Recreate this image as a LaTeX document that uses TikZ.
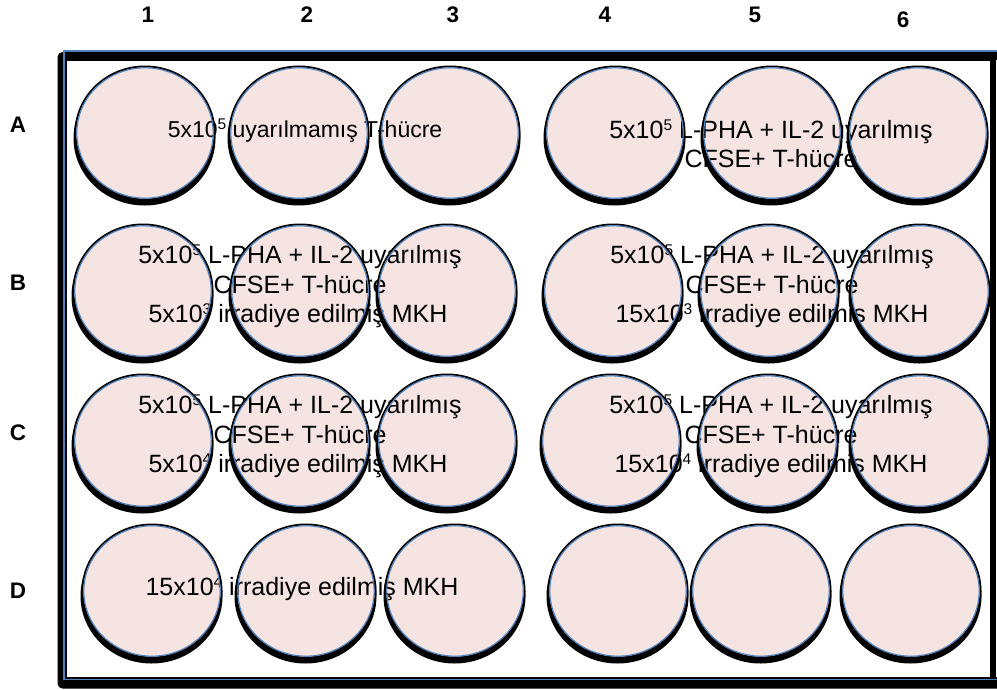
\documentclass[tikz,border=0pt]{standalone}
\usepackage{fontspec}
\setmainfont{Liberation Sans}
\usetikzlibrary{shapes.geometric}
\definecolor{wellpink}{HTML}{F5E4E2}
\definecolor{rimblue}{HTML}{4F81BD}
\newcommand\sups[1]{\raisebox{7.5pt}{\fontsize{15.5}{15.5}\selectfont #1}}
\begin{document}
\begin{tikzpicture}[x=1pt,y=-1pt,
  wellbase/.style={ellipse, minimum width=138pt, minimum height=132pt, inner sep=0pt, fill=wellpink},
  txt/.style={anchor=base, inner sep=0pt, font=\fontsize{25}{30}\selectfont},
  txtA/.style={anchor=base, inner sep=0pt, font=\fontsize{23}{28}\selectfont},
  lbl/.style={font=\fontsize{22.5}{26}\selectfont\bfseries, inner sep=0pt}]
\useasboundingbox (0,0) rectangle (997,689);
% plate frame
\fill[black, rounded corners=5pt] (57.5,52) rectangle (1010,688.5);
\draw[rimblue, line width=1.8pt, fill=black] (63.8,50.8) rectangle (1005,679.5);
\draw[black, line width=1pt, fill=white] (66.5,60) rectangle (990.5,677);
\fill[white] (995.5,60) rectangle (997,677);
% column and row labels
\node[lbl] (c1) at (148,15) {1};
\node[lbl] (c2) at (307,15) {2};
\node[lbl] (c3) at (453,15) {3};
\node[lbl] (c4) at (605,15) {4};
\node[lbl] (c5) at (755,15) {5};
\node[lbl] (c6) at (903,20) {6};
\node[lbl] (rA) at (18,125) {A};
\node[lbl] (rB) at (18,283) {B};
\node[lbl] (rC) at (18,433) {C};
\node[lbl] (rD) at (18,591) {D};
% wells: shadows and fills
\foreach \n/\x/\y in {A1/145/133, A2/299/133, A3/450/133, A4/615/133, A5/772/133, A6/918/133,
                      B1/143/291, B2/300/291, B3/447/291, B4/613/291, B5/769/291, B6/920/291,
                      C1/143/441, C2/300/441, C3/447/441, C4/611/441, C5/768/441, C6/920/441,
                      D1/152/591, D2/306/591, D3/455/591, D4/618/591, D5/761/591, D6/911/591} {
  \fill[black] (\x-0.5,\y+5) ellipse [x radius=71pt, y radius=67.5pt];
  \node[wellbase] (\n) at (\x,\y) {};
}
% texts
\node[txtA] (tA1) at (305,137) {5x10\sups{5} uyarılmamış T-hücre};
\node[txt] (tA2a) at (771,138) {5x10\sups{5} L-PHA + IL-2 uyarılmış};
\node[txt] (tA2b) at (771,167) {CFSE+ T-hücre};
\node[txt] (tB1a) at (300,263) {5x10\sups{5} L-PHA + IL-2 uyarılmış};
\node[txt] (tB1b) at (300,293) {CFSE+ T-hücre};
\node[txt] (tB1c) at (298,322) {5x10\sups{3} irradiye edilmiş MKH};
\node[txt] (tB2a) at (772,263) {5x10\sups{5} L-PHA + IL-2 uyarılmış};
\node[txt] (tB2b) at (772,293) {CFSE+ T-hücre};
\node[txt] (tB2c) at (772,322) {15x10\sups{3} irradiye edilmiş MKH};
\node[txt] (tC1a) at (300,413) {5x10\sups{5} L-PHA + IL-2 uyarılmış};
\node[txt] (tC1b) at (300,443) {CFSE+ T-hücre};
\node[txt] (tC1c) at (298,472) {5x10\sups{4} irradiye edilmiş MKH};
\node[txt] (tC2a) at (771,413) {5x10\sups{5} L-PHA + IL-2 uyarılmış};
\node[txt] (tC2b) at (771,443) {CFSE+ T-hücre};
\node[txt] (tC2c) at (771,472) {15x10\sups{4} irradiye edilmiş MKH};
\node[txt] (tD1) at (302,595) {15x10\sups{4} irradiye edilmiş MKH};
% well rims on top
\foreach \n in {A1,A2,A3,A4,A5,A6,B1,B2,B3,B4,B5,B6,C1,C2,C3,C4,C5,C6,D1,D2,D3,D4,D5,D6} {
  \draw[black, line width=1.8pt] (\n.center) ellipse [x radius=69.6pt, y radius=66.6pt];
  \draw[rimblue, line width=1.2pt] (\n.center) ellipse [x radius=68.2pt, y radius=65.2pt];
}
\end{tikzpicture}
\end{document}
